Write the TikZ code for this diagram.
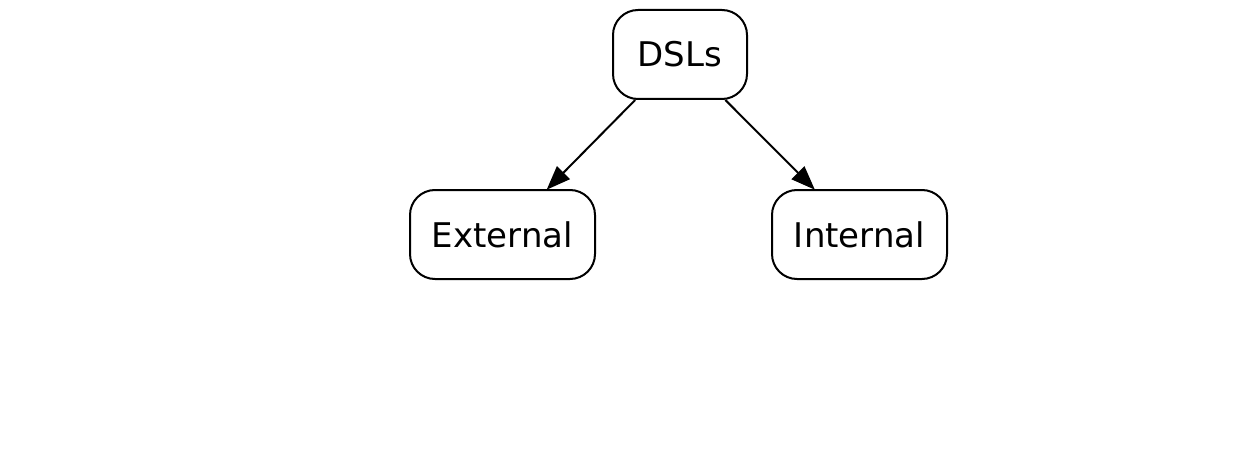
\documentclass[tikz,border=0pt]{standalone}
\usepackage{fontspec}
\setmainfont{DejaVu Sans}
\usetikzlibrary{arrows.meta}
\begin{document}
\begin{tikzpicture}[x=1pt,y=1pt,
  box/.style={draw, line width=2pt, rounded corners=25pt, minimum height=89pt, inner sep=0pt,
    font=\fontsize{34}{40}\selectfont},
  link/.style={line width=2pt, shorten >=-1pt, -{Triangle[length=24pt,width=18pt]}}]
\useasboundingbox (0,0) rectangle (1243,475);
\node[box, minimum width=134pt] (dsl) at (680,420.5) {DSLs};
\node[box, minimum width=185pt] (ext) at (502.5,240.5) {External};
\node[box, minimum width=175pt] (int) at (859.5,240.5) {Internal};
\draw[link] (dsl) -- (ext);
\draw[link] (dsl) -- (int);
\end{tikzpicture}
\end{document}
